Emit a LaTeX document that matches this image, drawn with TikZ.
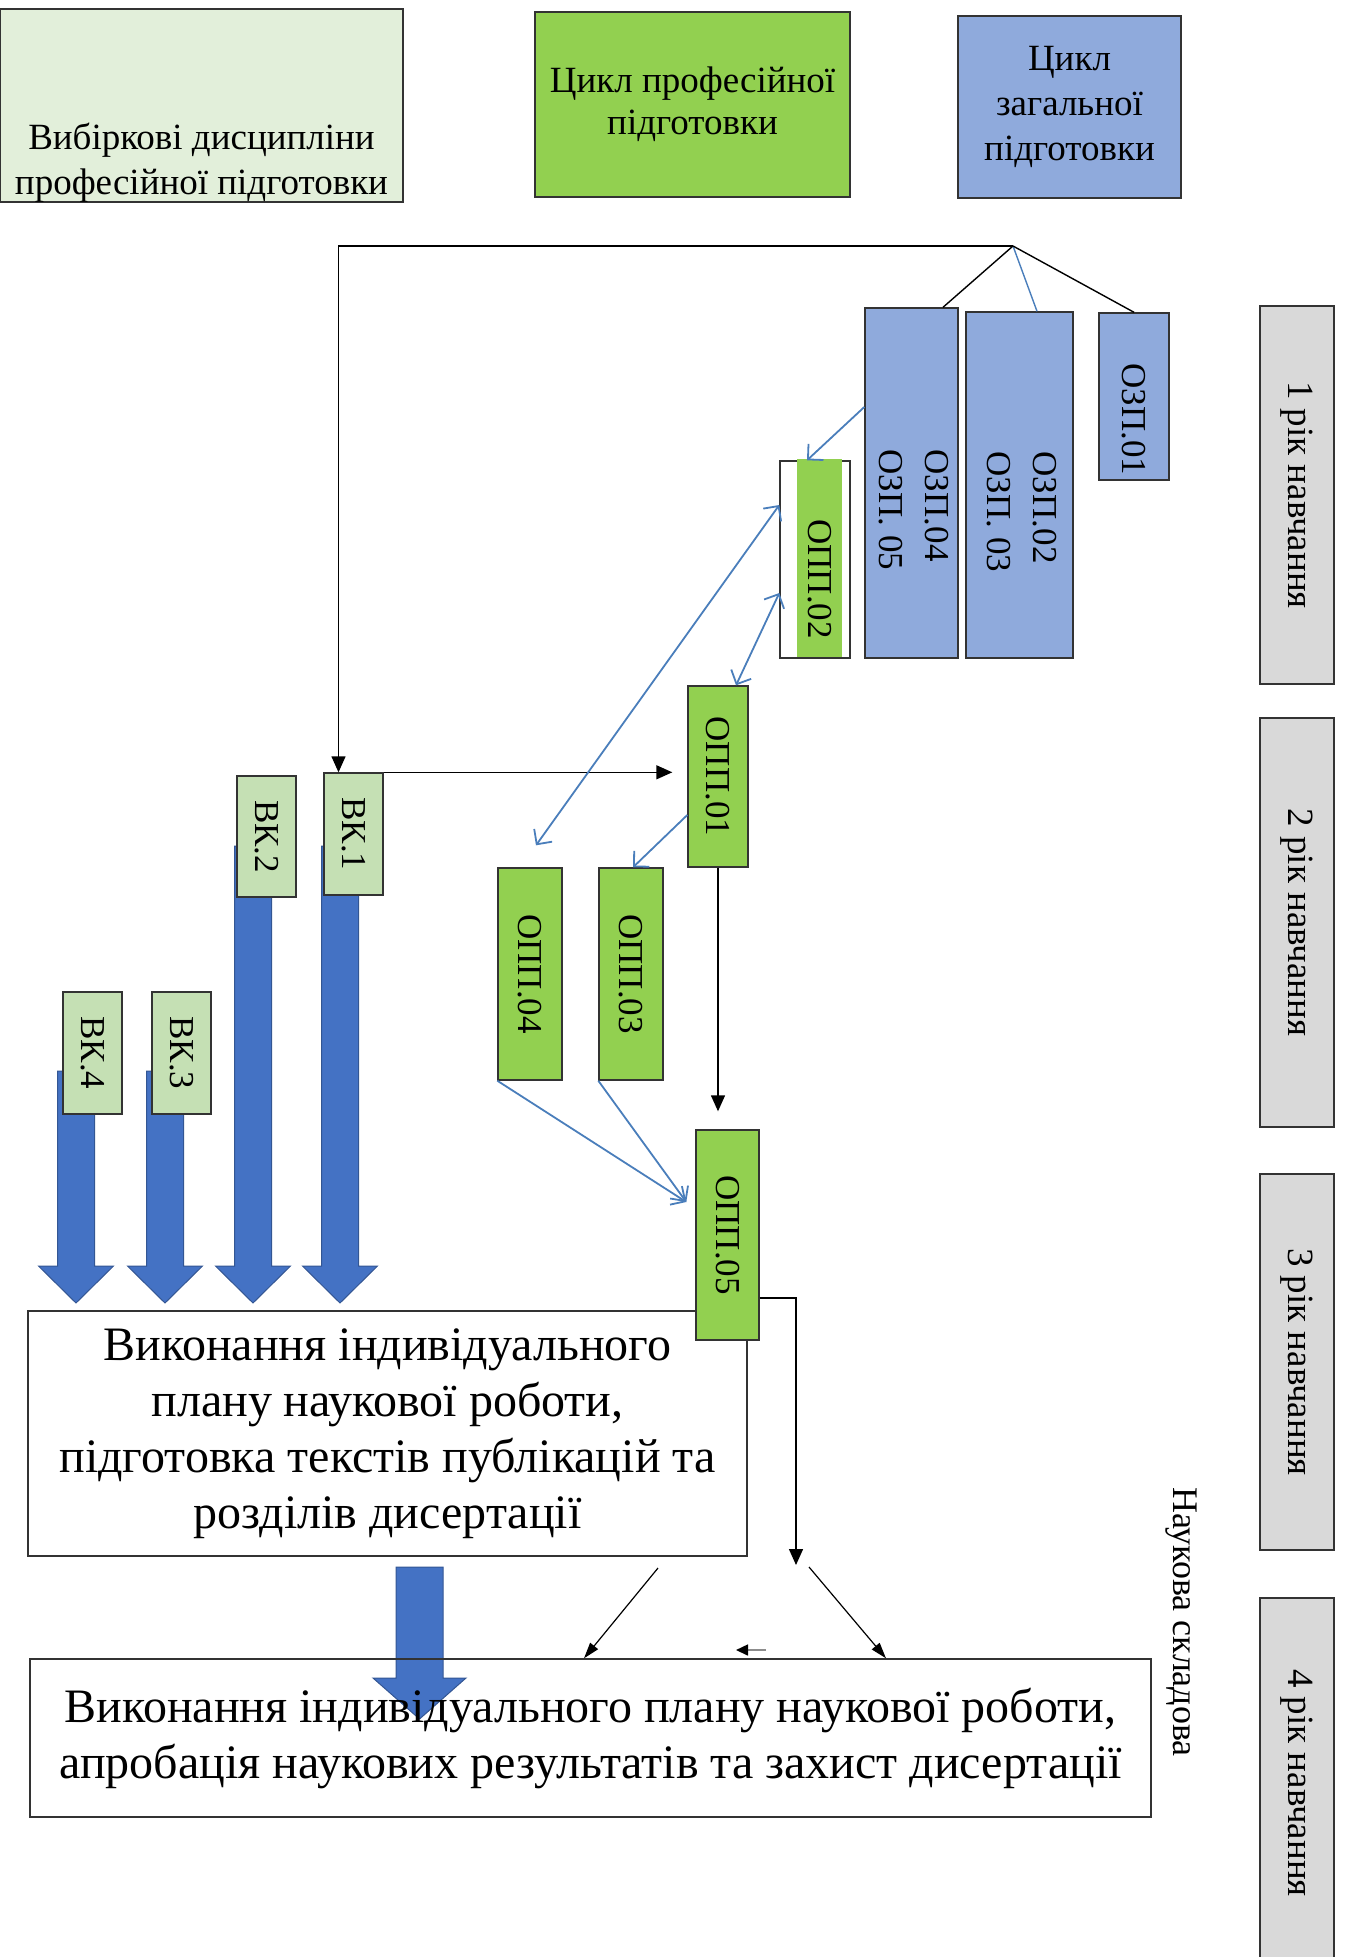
\documentclass[tikz,border=0pt]{standalone}
\usepackage{fontspec}
\setmainfont{Liberation Serif}
\usetikzlibrary{arrows.meta}
\definecolor{PaleGreen}{RGB}{226,239,218}
\definecolor{LeafGreen}{RGB}{146,208,80}
\definecolor{SoftBlue}{RGB}{143,170,220}
\definecolor{MintGreen}{RGB}{197,224,180}
\definecolor{RoyalBlue}{RGB}{68,114,196}
\definecolor{LineBlue}{RGB}{74,126,187}
\definecolor{YearGray}{RGB}{217,217,217}

\begin{document}
\begin{tikzpicture}[x=1pt, y=-1pt,
    box/.style={draw=black!80, line width=1.4pt, inner sep=0pt, align=center},
    tag/.style={font=\fontsize{35}{46}\selectfont},
    big/.style={font=\fontsize{48}{56}\selectfont},
    head/.style={font=\fontsize{37}{45}\selectfont},
    blockarrow/.style={fill=RoyalBlue, draw=RoyalBlue!75!black, line width=1pt},
    blk/.style={draw=black, line width=1.4pt, -{Triangle[length=16pt,width=14pt]}},
    blu/.style={draw=LineBlue, line width=1.8pt, -{Straight Barb[length=11pt,width=22pt]}},
    dblu/.style={blu, {Straight Barb[length=11pt,width=22pt]}-{Straight Barb[length=11pt,width=22pt]}}]
    \useasboundingbox (0,0) rectangle (1344,1957);

    % Cycles
    \node[box, head, fill=PaleGreen, minimum width=403pt, minimum height=191pt] (vybir) at (201.5,105.5)
        {\parbox[c][185pt][b]{400pt}{\centering Вибіркові дисципліни\\професійної підготовки}};
    \node[box, fill=LeafGreen, minimum width=315pt, minimum height=185pt, font=\fontsize{37}{42}\selectfont] (cprof) at (692.5,104.5) {Цикл професійної\\підготовки};
    \node[box, head, fill=SoftBlue, minimum width=223pt, minimum height=182pt] (czag) at (1069.5,107) {Цикл\\загальної\\підготовки};

    % Years
    \node[box, fill=YearGray, font=\fontsize{37}{44}\selectfont, minimum width=74pt, minimum height=378pt] (yr1) at (1297,495) {\rotatebox{-90}{1 рік навчання}};
    \node[box, fill=YearGray, font=\fontsize{37}{44}\selectfont, minimum width=74pt, minimum height=409pt] (yr2) at (1297,922.5) {\rotatebox{-90}{2 рік навчання}};
    \node[box, fill=YearGray, font=\fontsize{37}{44}\selectfont, minimum width=74pt, minimum height=376pt] (yr3) at (1297,1362) {\rotatebox{-90}{3 рік навчання}};
    \node[box, fill=YearGray, font=\fontsize{37}{44}\selectfont, minimum width=74pt, minimum height=370pt] (yr4) at (1297,1783) {\rotatebox{-90}{4 рік навчання}};
    \node[font=\fontsize{36}{44}\selectfont, inner sep=0pt] (nauk) at (1181,1622) {\rotatebox{-90}{Наукова складова}};

    % Elective arrows
    \foreach \cx/\top in {340/846, 253/846, 165/1071, 76/1071}
        \draw[blockarrow] (\cx-18.5,\top) -- (\cx+18.5,\top) -- (\cx+18.5,1266) -- (\cx+37.5,1266)
            -- (\cx,1303) -- (\cx-37.5,1266) -- (\cx-18.5,1266) -- cycle;

    % Electives
    \node[box, tag, fill=MintGreen, minimum width=59pt, minimum height=122pt] (vk1) at (353.5,834) {\rotatebox{-90}{ВК.1}};
    \node[box, tag, fill=MintGreen, minimum width=59pt, minimum height=121pt] (vk2) at (266.5,836.5) {\rotatebox{-90}{ВК.2}};
    \node[box, tag, fill=MintGreen, minimum width=59pt, minimum height=122pt] (vk3) at (181.5,1053) {\rotatebox{-90}{ВК.3}};
    \node[box, tag, fill=MintGreen, minimum width=59pt, minimum height=122pt] (vk4) at (92.5,1053) {\rotatebox{-90}{ВК.4}};

    % Research plan
    \node[box, big, fill=white, minimum width=719pt, minimum height=245pt] (plan) at (387.5,1433.5)
        {Виконання індивідуального\\плану наукової роботи,\\підготовка текстів публікацій та\\розділів дисертації};

    % General training
    \node[box, tag, fill=SoftBlue, minimum width=93pt, minimum height=350pt, text height=54pt] (ozp45) at (911.5,483)
        {\rotatebox{-90}{\begin{tabular}{@{}l@{}}ОЗП.04\\ОЗП. 05\end{tabular}}};
    \node[box, tag, fill=SoftBlue, minimum width=107pt, minimum height=346pt, text height=54pt] (ozp23) at (1019.5,485)
        {\rotatebox{-90}{\begin{tabular}{@{}l@{}}ОЗП.02\\ОЗП. 03\end{tabular}}};
    \node[box, tag, fill=SoftBlue, minimum width=70pt, minimum height=167pt, text height=46pt] (ozp1) at (1134,396.5) {\rotatebox{-90}{ОЗП.01}};

    % Professional training
    \node[box, fill=white, minimum width=70pt, minimum height=197pt] (opp2) at (815,559.5) {};
    \node[tag, fill=LeafGreen, inner sep=0pt, minimum width=45pt, minimum height=198pt, text height=42pt] (opp2in) at (819.5,558) {\rotatebox{-90}{ОПП.02}};
    \node[box, tag, fill=LeafGreen, minimum width=60pt, minimum height=181pt] (opp1) at (718,776.5) {\rotatebox{-90}{ОПП.01}};
    \node[box, tag, fill=LeafGreen, minimum width=64pt, minimum height=212pt] (opp3) at (631,974) {\rotatebox{-90}{ОПП.03}};
    \node[box, tag, fill=LeafGreen, minimum width=64pt, minimum height=212pt] (opp4) at (530,974) {\rotatebox{-90}{ОПП.04}};
    \node[box, tag, fill=LeafGreen, minimum width=63pt, minimum height=210pt] (opp5) at (727.5,1235) {\rotatebox{-90}{ОПП.05}};

    % Final stage
    \draw[blockarrow] (396,1567) -- (443,1567) -- (443,1678) -- (466,1678) -- (419.5,1719)
        -- (373,1678) -- (396,1678) -- cycle;
    \node[box, big, minimum width=1121pt, minimum height=158pt] (final) at (590.5,1738)
        {Виконання індивідуального плану наукової роботи,\\апробація наукових результатів та захист дисертації};

    % Free ends
    \coordinate (apex) at (1013,246);
    \coordinate (drop) at (796,1565);
    \coordinate (s1) at (658,1568);
    \coordinate (s2) at (809,1567);
    \coordinate (m1) at (766,1650);
    \coordinate (m2) at (736,1650);

    % Connections
    \draw[line width=1.4pt] (apex) -- ([xshift=31.5pt]ozp45.north);
    \draw[LineBlue, line width=1.4pt] (apex) -- ([xshift=17.5pt]ozp23.north);
    \draw[line width=1.4pt] (apex) -- (ozp1.north);
    \draw[blk] (apex) -| ([xshift=-15pt]vk1.north);
    \draw[blk, shorten >=15pt] (vk1.north east) -- (opp1.west |- vk1.north east);
    \draw[blk, shorten >=18pt] (opp1.south) -- (opp1.south |- opp5.north);
    \draw[blk] ([yshift=-63pt]opp5.east) -| (drop);

    \draw[blu] ([yshift=76pt]ozp45.west) -- ([xshift=-8pt]opp2.north);
    \draw[dblu] ([yshift=-33.5pt]opp2.west) -- ([xshift=18pt]opp1.north);
    \draw[dblu] ([yshift=54.5pt]opp2.west) -- ([shift={(6pt,22pt)}]opp4.north);
    \draw[blu] ([yshift=-38.5pt]opp1.west) -- ([xshift=2pt]opp3.north);
    \draw[blu] (opp4.south west) -- ([shift={(-9pt,33pt)}]opp5.west);
    \draw[blu] (opp3.south west) -- ([shift={(-9pt,33pt)}]opp5.west);

    \draw[line width=1.2pt, -{Triangle[length=16pt,width=10pt]}] (s1) -- ([xshift=-6.5pt]final.north);
    \draw[line width=1.2pt, -{Triangle[length=16pt,width=10pt]}] (s2) -- ([xshift=295.5pt]final.north);
    \draw[black!45, line width=1.6pt, -{Triangle[length=12pt,width=11pt,black]}] (m1) -- (m2);
\end{tikzpicture}
\end{document}
